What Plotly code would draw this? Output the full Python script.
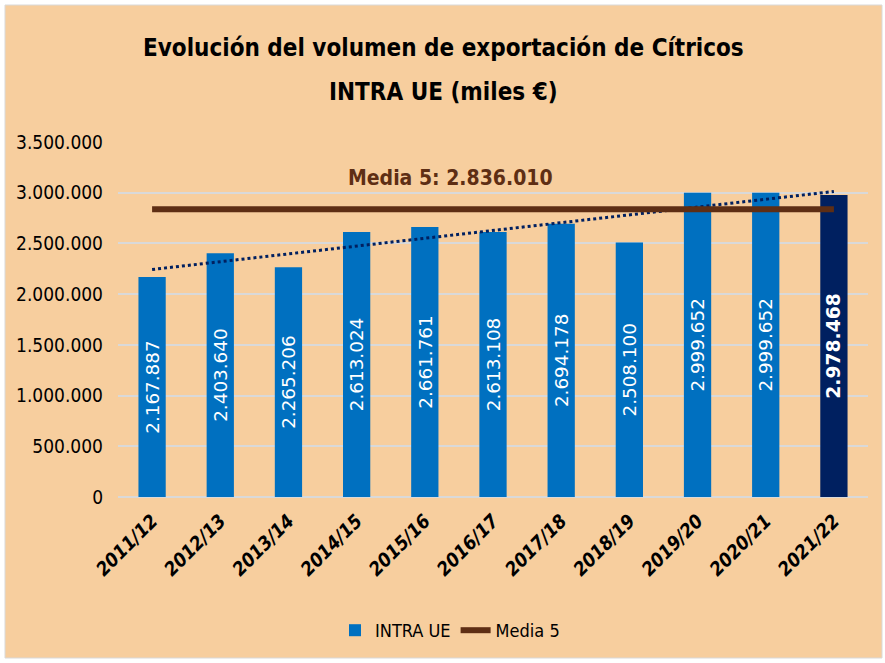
import numpy as np
import plotly.graph_objects as go

campaigns = ["2011/12", "2012/13", "2013/14", "2014/15", "2015/16", "2016/17",
             "2017/18", "2018/19", "2019/20", "2020/21", "2021/22"]
intra_ue = [2167887, 2403640, 2265206, 2613024, 2661761, 2613108,
            2694178, 2508100, 2999652, 2999652, 2978468]
media5 = 2836010
y_ticks = [0, 500000, 1000000, 1500000, 2000000, 2500000, 3000000, 3500000]
title_lines = ["Evolución del volumen de exportación de Cítricos", "INTRA UE (miles €)"]

def fmt(v):
    return f"{v:,}".replace(",", ".")

n = len(campaigns)
bar_colors = ["#0070C0"] * (n - 1) + ["#002060"]
labels = [fmt(v) for v in intra_ue[:-1]] + ["<b>" + fmt(intra_ue[-1]) + "</b>"]
label_sizes = [19] * (n - 1) + [22]

# linear trend line through the data
idx = np.arange(n)
slope, icpt = np.polyfit(idx, intra_ue, 1)
trend = slope * idx + icpt

FONT = "DejaVu Sans Condensed, DejaVu Sans"
PL, PT, PW, PH = 118, 142, 750, 355   # plot area in page pixels
PB = PT + PH

def px_x(px):
    return (px - PL) / PW

def px_y(py):
    return (PB - py) / PH

fig = go.Figure()
fig.add_trace(go.Bar(
    x=campaigns, y=intra_ue, name="INTRA UE",
    marker=dict(color=bar_colors, line=dict(width=0)),
    width=0.4,
    text=labels, textposition="inside", insidetextanchor="middle",
    textangle=-90,
    textfont=dict(family="DejaVu Sans", color="white", size=label_sizes),
))
fig.add_trace(go.Scatter(
    x=campaigns, y=trend, mode="lines", showlegend=False,
    line=dict(color="#002060", width=3, dash="dot"), hoverinfo="skip",
))
fig.add_trace(go.Scatter(
    x=[campaigns[0], campaigns[-1]], y=[media5, media5], mode="lines",
    name="Media 5", line=dict(color="#5E2E14", width=6),
))

fig.add_annotation(
    x=px_x(450), xref="paper", y=3150000, yref="y",
    text="<b>Media 5: " + fmt(media5) + "</b>", showarrow=False,
    font=dict(family=FONT, size=21, color="#5E2E14"),
    xanchor="center", yanchor="middle",
)
for i, line in enumerate(title_lines):
    fig.add_annotation(
        x=px_x(443), xref="paper", xanchor="center",
        y=px_y(48 + 44 * i), yref="paper", yanchor="middle",
        text="<b>" + line + "</b>", showarrow=False,
        font=dict(family=FONT, size=24, color="#000000"),
    )

fig.update_layout(
    width=885, height=663,
    margin=dict(l=PL, r=885 - PL - PW, t=PT, b=663 - PB, autoexpand=False),
    paper_bgcolor="#FFFFFF",
    plot_bgcolor="rgba(0,0,0,0)",
    separators=",.",
    showlegend=True,
    legend=dict(orientation="h", x=px_x(450), xanchor="center",
                y=px_y(612), yanchor="top",
                font=dict(family=FONT, size=18, color="#000000"),
                bgcolor="rgba(0,0,0,0)"),
    shapes=[dict(type="rect", xref="paper", yref="paper",
                 x0=px_x(5), x1=px_x(882), y0=px_y(658), y1=px_y(5),
                 fillcolor="#F7CE9E", line=dict(color="#D9D9D9", width=1),
                 layer="below")],
)
fig.update_xaxes(
    tickangle=-45, showgrid=False, showline=False, ticks="",
    tickvals=campaigns,
    ticktext=["<b><i>" + c + "</i></b>" for c in campaigns],
    tickfont=dict(family=FONT, size=19, color="#000000"),
    ticklabelstandoff=8,
)
fig.update_yaxes(
    range=[0, 3500000], tickvals=y_ticks,
    ticktext=[fmt(v) for v in y_ticks],
    showgrid=True, gridcolor="#D9D9D9", gridwidth=2,
    zeroline=True, zerolinecolor="#D9D9D9", zerolinewidth=2,
    tickfont=dict(family=FONT, size=19, color="#000000"),
    ticklabelstandoff=14,
)

fig.write_html("out.html", post_script="document.body.style.margin='0';",
               config={"displayModeBar": False})
